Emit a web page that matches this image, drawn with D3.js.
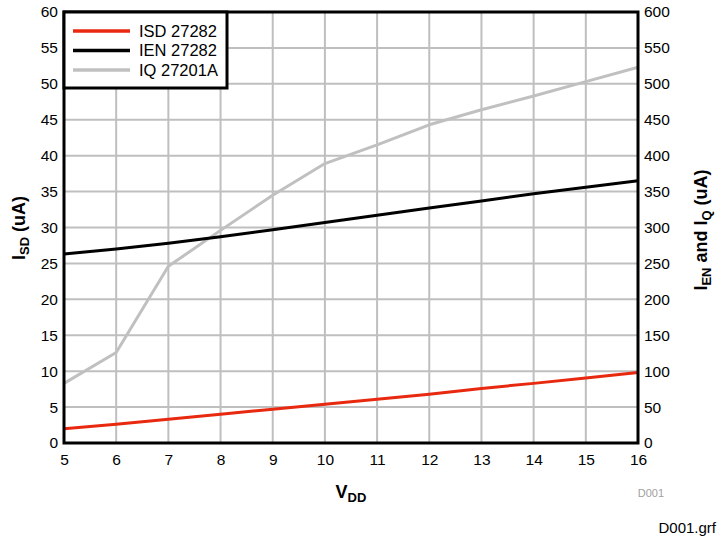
<!DOCTYPE html>
<html><head><meta charset="utf-8">
<script src="https://cdn.jsdelivr.net/npm/d3@7"></script>
<style>body{margin:0;background:#fff}text{font-family:"Liberation Sans",Arial,sans-serif}</style>
</head><body>
<svg id="c" width="724" height="540"></svg>
<script>
const vdd = [5,6,7,8,9,10,11,12,13,14,15,16];
const isd = [2.0,2.6,3.3,4.0,4.7,5.4,6.1,6.8,7.6,8.3,9.05,9.8];
const ien = [263,270,278,287,297,307,317,327,337,347,356,365];
const iq  = [83,126,246,296,345,389,415,443,464,483,503,523];
const xTicks = d3.range(5,17,1);
const yLeftTicks = d3.range(0,61,5);
const yRightTicks = d3.range(0,601,50);
const legendLabels = ["ISD 27282","IEN 27282","IQ 27201A"];
const colors = ["#e8290f","#000000","#c0c0c0"];

const svg = d3.select("#c");
const L=64,R=638,T=12,B=443;
const x = d3.scaleLinear().domain([5,16]).range([L,R]);
const yl = d3.scaleLinear().domain([0,60]).range([B,T]);
const yr = d3.scaleLinear().domain([0,600]).range([B,T]);

// grid
svg.append("g").selectAll("line").data(xTicks).join("line")
  .attr("x1",d=>x(d)).attr("x2",d=>x(d)).attr("y1",T).attr("y2",B)
  .attr("stroke","#bfbfbf").attr("stroke-width",2);
svg.append("g").selectAll("line").data(yLeftTicks).join("line")
  .attr("y1",d=>yl(d)).attr("y2",d=>yl(d)).attr("x1",L).attr("x2",R)
  .attr("stroke","#bfbfbf").attr("stroke-width",2);

// lines
const series = [{v:isd,s:yl},{v:ien,s:yr},{v:iq,s:yr}];
series.slice().reverse().forEach((ser,ri)=>{
  const i = 2-ri;
  const line = d3.line().x((d,j)=>x(vdd[j])).y(d=>ser.s(d));
  svg.append("path").datum(ser.v).attr("d",line).attr("fill","none")
    .attr("stroke",colors[i]).attr("stroke-width",3).attr("stroke-linejoin","round");
});

// frame
svg.append("rect").attr("x",L).attr("y",T).attr("width",R-L).attr("height",B-T)
  .attr("fill","none").attr("stroke","#000").attr("stroke-width",3);

// axes labels
const axL = svg.append("g").attr("transform",`translate(${L},0)`)
  .call(d3.axisLeft(yl).tickValues(yLeftTicks).tickSize(0).tickPadding(6));
const axR = svg.append("g").attr("transform",`translate(${R},0)`)
  .call(d3.axisRight(yr).tickValues(yRightTicks).tickSize(0).tickPadding(6));
const axB = svg.append("g").attr("transform",`translate(0,${B})`)
  .call(d3.axisBottom(x).tickValues(xTicks).tickSize(0).tickPadding(11));
[axL,axR,axB].forEach(a=>{
  a.select(".domain").remove();
  a.selectAll("text").attr("font-size",15.5).attr("fill","#000")
    .attr("font-family","'Liberation Sans',Arial,sans-serif");
});

// titles
const xt = svg.append("text").attr("x",351).attr("y",498).attr("text-anchor","middle")
  .attr("font-size",18).attr("font-weight","bold");
xt.append("tspan").text("V");
xt.append("tspan").text("DD").attr("font-size",13).attr("dy",4);

const ylt = svg.append("text").attr("transform","translate(25,228) rotate(-90)")
  .attr("text-anchor","middle").attr("font-size",18).attr("font-weight","bold");
ylt.append("tspan").text("I");
ylt.append("tspan").text("SD").attr("font-size",13).attr("dy",4);
ylt.append("tspan").text(" (uA)").attr("dy",-4);

const yrt = svg.append("text").attr("transform","translate(707,230) rotate(-90)")
  .attr("text-anchor","middle").attr("font-size",18).attr("font-weight","bold");
yrt.append("tspan").text("I");
yrt.append("tspan").text("EN").attr("font-size",13).attr("dy",4);
yrt.append("tspan").text(" and I").attr("dy",-4);
yrt.append("tspan").text("Q").attr("font-size",13).attr("dy",4);
yrt.append("tspan").text(" (uA)").attr("dy",-4);

svg.append("text").attr("x",664).attr("y",497).attr("text-anchor","end")
  .attr("font-size",11).attr("fill","#a0a0a0").text("D001");
svg.append("text").attr("x",716).attr("y",533).attr("text-anchor","end")
  .attr("font-size",15).attr("fill","#000").text("D001.grf");

// legend
const lg = svg.append("g");
lg.append("rect").attr("x",L).attr("y",T).attr("width",163).attr("height",76)
  .attr("fill","#fff").attr("stroke","#000").attr("stroke-width",3);
legendLabels.forEach((t,i)=>{
  const yy = 31 + i*19.5;
  lg.append("line").attr("x1",73).attr("x2",130).attr("y1",yy).attr("y2",yy)
    .attr("stroke",colors[i]).attr("stroke-width",3.5);
  lg.append("text").attr("x",139).attr("y",yy+5.5).attr("font-size",16.5).text(t);
});
</script>
</body></html>
